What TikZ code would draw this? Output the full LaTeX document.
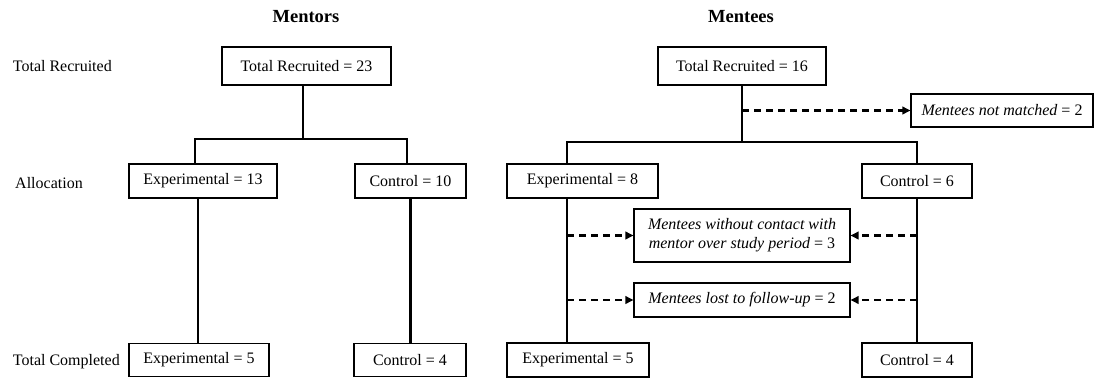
\documentclass[tikz,border=0pt]{standalone}
\usepackage{fontspec}
\setmainfont{Liberation Serif}
\usetikzlibrary{arrows.meta,calc}
\begin{document}
\begin{tikzpicture}[x=1pt,y=-1pt,
  txt/.style={font=\fontsize{16}{19}\selectfont},
  box/.style={txt,draw,line width=1.8pt,inner sep=0pt},
  ibox/.style={txt,draw,line width=1.1pt,inner sep=0pt,align=center},
  lbl/.style={txt,inner sep=0pt,anchor=west},
  head/.style={font=\fontsize{18.5}{22}\selectfont\bfseries,inner sep=0pt},
  conn/.style={line width=1.9pt},
  slim/.style={line width=1.3pt},
  heavy/.style={line width=2.6pt},
  dsh/.style={line width=2.2pt,dash pattern=on 7pt off 5pt,-{Triangle[length=8pt,width=7.5pt]}}
]
\useasboundingbox (0,0) rectangle (1095,381);

% headings
\node[head] (hm) at (306,17) {Mentors};
\node[head] (ht) at (741,17) {Mentees};

% row labels
\node[lbl] (l1) at (12.7,66) {Total Recruited};
\node[lbl] (l2) at (15,183) {Allocation};
\node[lbl] (l3) at (12.7,362) {Total Completed};

% mentors
\node[box,minimum width=169pt,minimum height=38pt] (mt) at (306.5,66) {Total Recruited = 23};
\node[box,minimum width=148pt,minimum height=34pt] (me) at (203,181) {Experimental = 13};
\node[box,minimum width=111pt,minimum height=34pt] (mc) at (410.5,181) {Control = 10};
\node[box,minimum width=140pt,minimum height=33pt] (mbe) at (199,360) {Experimental = 5};
\node[box,minimum width=112pt,minimum height=33pt] (mbc) at (410,360) {Control = 4};

% mentees
\node[box,minimum width=168pt,minimum height=38pt] (tt) at (742,66) {Total Recruited = 16};
\node[ibox,minimum width=182pt,minimum height=33pt] (nm) at (1002,110.5) {\textit{Mentees not matched} = 2};
\node[box,minimum width=151pt,minimum height=34pt] (te) at (582.5,181) {Experimental = 8};
\node[box,minimum width=110pt,minimum height=34pt] (tc) at (917,181) {Control = 6};
\node[ibox,minimum width=216pt,minimum height=53pt] (wc) at (742,235.5) {\textit{Mentees without contact with}\\\textit{mentor over study period} = 3};
\node[ibox,minimum width=216pt,minimum height=34pt] (lf) at (742,300) {\textit{Mentees lost to follow-up} = 2};
\node[box,minimum width=142pt,minimum height=34pt] (tbe) at (578,360) {Experimental = 5};
\node[box,minimum width=110pt,minimum height=34pt] (tbc) at (917,360) {Control = 4};

% mentors connectors
\coordinate (mj) at (303,139);
\coordinate (mel) at ($(me.north)+(-8,0)$);
\coordinate (mcl) at ($(mc.north)+(-3.5,0)$);
\draw[conn] ($(mt.south)+(-3.5,0)$) -- (mj);
\draw[conn] (mel) |- (mj) -| (mcl);
\draw[slim] ($(me.south)+(-5,0)$) -- ($(mbe.north)+(-1,0)$);
\draw[heavy] (mc.south) -- (mc.south |- mbc.north);

% mentees connectors
\coordinate (tj) at (742,142);
\coordinate (tel) at ($(te.north)+(-15.5,0)$);
\coordinate (tes) at ($(te.south)+(-15.5,0)$);
\draw[conn] (tt.south) -- (tj);
\draw[conn] (tel) |- (tj) -| (tc.north);
\draw[dsh] (tt.south |- nm.west) -- (nm.west);
\draw[heavy] (tes) -- (tes |- tbe.north);
\draw[slim] (tc.south) -- (tbc.north);
\draw[dsh] (tes |- wc.west) -- (wc.west);
\draw[dsh] (tc.south |- wc.east) -- (wc.east);
\draw[dsh] (tes |- lf.west) -- (lf.west);
\draw[dsh] (tc.south |- lf.east) -- (lf.east);
\end{tikzpicture}
\end{document}
